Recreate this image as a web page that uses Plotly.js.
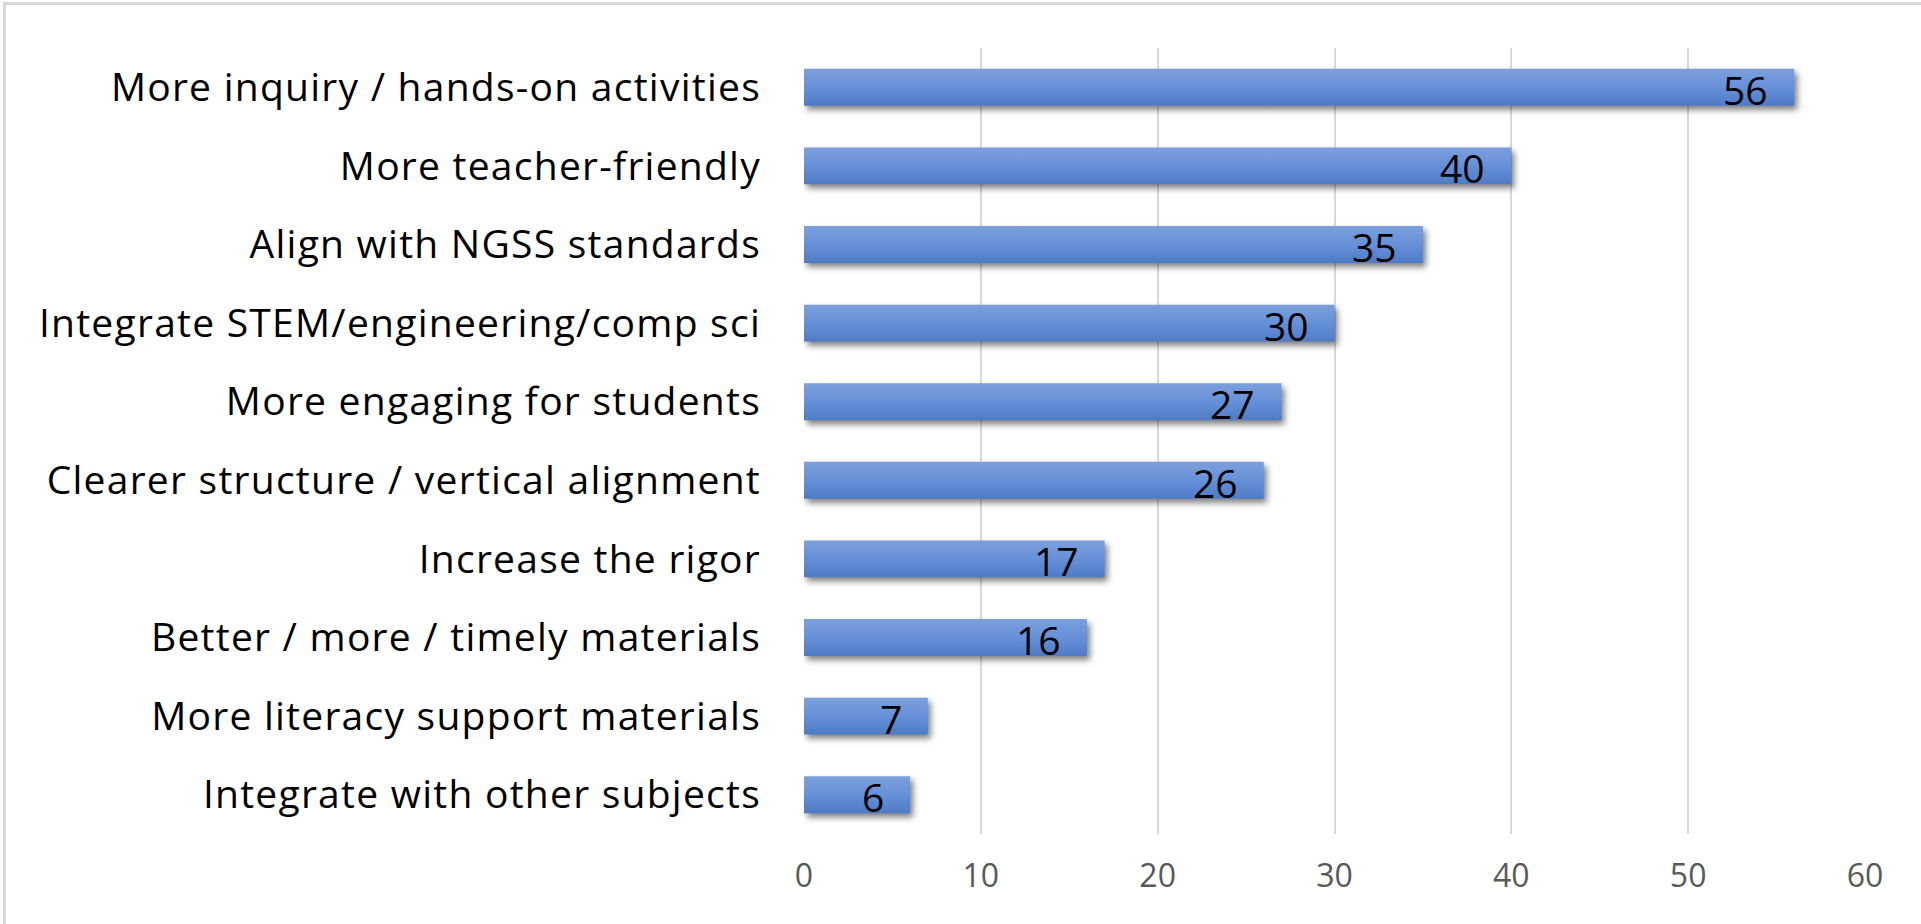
<!DOCTYPE html>
<html>
<head>
<meta charset="utf-8">
<script src="https://cdn.plot.ly/plotly-3.0.1.min.js"></script>
<style>
  html, body { margin: 0; padding: 0; background: #ffffff; }
  #chart { position: absolute; left: 0; top: 0; width: 1921px; height: 924px; }
  #frame { position: absolute; left: 3px; top: 2px; width: 1930px; height: 940px;
           border-left: 3px solid #d9d9d9; border-top: 3px solid #d9d9d9; pointer-events: none; }
  #chart .barlayer .point path {
    fill: url(#barGrad) !important;
    filter: drop-shadow(3px 4px 3px rgba(0,0,0,0.5));
  }
  #chart .ytick text { letter-spacing: 1.25px; }
</style>
</head>
<body>
<svg width="0" height="0" style="position:absolute">
  <defs>
    <linearGradient id="barGrad" x1="0" y1="0" x2="0" y2="1">
      <stop offset="0" stop-color="#7ca0dc"/>
      <stop offset="0.5" stop-color="#6690d8"/>
      <stop offset="1" stop-color="#4f7bc6"/>
    </linearGradient>
  </defs>
</svg>
<div id="chart"></div>
<div id="frame"></div>
<script>
const categories = [
  "More inquiry / hands-on activities",
  "More teacher-friendly",
  "Align with NGSS standards",
  "Integrate STEM/engineering/comp sci",
  "More engaging for students",
  "Clearer structure / vertical alignment",
  "Increase the rigor",
  "Better / more / timely materials",
  "More literacy support materials",
  "Integrate with other subjects"
];
const counts = [56, 40, 35, 30, 27, 26, 17, 16, 7, 6];
const xTicks = [0, 10, 20, 30, 40, 50, 60];

const FONT = "'Open Sans', Lato, sans-serif";

const trace = {
  type: "bar",
  orientation: "h",
  y: categories,
  x: counts,
  marker: { color: "#6690d8", line: { width: 0 } },
  hoverinfo: "x+y"
};

const annotations = counts.map((v, i) => ({
  x: v, y: categories[i], xref: "x", yref: "y",
  text: String(v), showarrow: false,
  xanchor: "right", yanchor: "middle",
  xshift: -24, yshift: -2,
  font: { family: FONT, size: 39, color: "#000000" }
}));

const layout = {
  width: 1921, height: 924,
  margin: { l: 804, r: 56, t: 48, b: 90 },
  paper_bgcolor: "#ffffff",
  plot_bgcolor: "#ffffff",
  bargap: 0.53,
  showlegend: false,
  xaxis: {
    range: [0, 60],
    tickvals: xTicks,
    ticktext: xTicks.map(String),
    showgrid: true, gridcolor: "#d9d9d9", gridwidth: 2,
    zeroline: false, showline: false, ticks: "",
    ticklabelstandoff: 20,
    tickfont: { family: FONT, size: 32, color: "#595959" },
    fixedrange: true
  },
  yaxis: {
    autorange: "reversed",
    type: "category",
    showgrid: false, zeroline: false, showline: false, ticks: "",
    ticklabelstandoff: 42,
    tickfont: { family: FONT, size: 39, color: "#000000" },
    fixedrange: true
  },
  annotations: annotations
};

Plotly.newPlot("chart", [trace], layout, { displayModeBar: false, staticPlot: true });
</script>
</body>
</html>
